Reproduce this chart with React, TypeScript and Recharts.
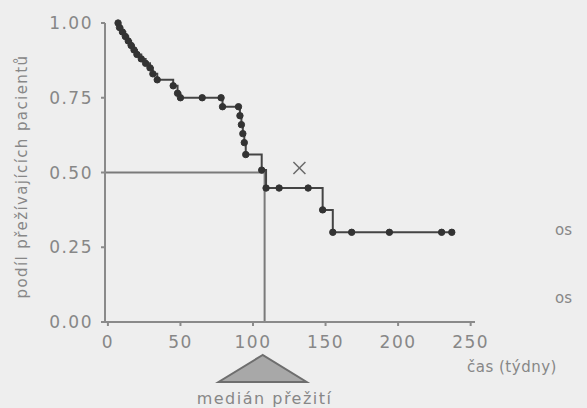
import React from 'react';
import { ComposedChart, Line, XAxis, YAxis, ReferenceLine, ReferenceDot, Scatter, Customized } from 'recharts';

const times = [7, 8, 10, 12, 14, 16, 18, 20, 23, 26, 29, 31, 34, 45, 48, 50, 65, 78, 79, 90, 91, 92, 93, 94, 95, 106, 109, 118, 138, 148, 155, 168, 194, 230, 237];
const survival = [1.0, 0.985, 0.97, 0.955, 0.94, 0.925, 0.91, 0.895, 0.88, 0.865, 0.85, 0.83, 0.81, 0.79, 0.765, 0.75, 0.75, 0.75, 0.72, 0.72, 0.69, 0.66, 0.63, 0.6, 0.56, 0.508, 0.448, 0.448, 0.448, 0.375, 0.3, 0.3, 0.3, 0.3, 0.3];
const xTicks = [0, 50, 100, 150, 200, 250];
const yTicks = [0, 0.25, 0.5, 0.75, 1];
const medianTime = 108;
const medianLevel = 0.5;
const crossPoint = [{ t: 132, s: 0.515 }];

const yLabel = 'podíl přežívajících pacientů';
const xLabel = 'čas (týdny)';
const medianLabel = 'medián přežití';
const sideLabels = ['os', 'os'];

const data = times.map((t, i) => ({ t, s: survival[i] }));

const TXT = '#878787';
const FONT = '"DejaVu Sans", sans-serif';

const YTick = (p: any) => (
  <text x={p.x} y={p.y} dy="0.36em" textAnchor="end" fill={TXT} fontSize={17} fontFamily={FONT} letterSpacing={1.5}>
    {Number(p.payload.value).toFixed(2)}
  </text>
);

const XTick = (p: any) => (
  <text x={p.x} y={p.y} dy="0.71em" textAnchor="middle" fill={TXT} fontSize={17} fontFamily={FONT} letterSpacing={1.5}>
    {p.payload.value}
  </text>
);

const Cross = (p: any) => {
  const r = 6;
  return (
    <g stroke="#6a6a6a" strokeWidth={1.5}>
      <line x1={p.cx - r} y1={p.cy - r} x2={p.cx + r} y2={p.cy + r} />
      <line x1={p.cx - r} y1={p.cy + r} x2={p.cx + r} y2={p.cy - r} />
    </g>
  );
};

const MedianMark = (p: any) => {
  const cx = p.cx;
  const cy = p.cy;
  return (
    <g>
      <polygon
        points={`${cx - 2},${cy + 33} ${cx - 46},${cy + 60} ${cx + 42},${cy + 60}`}
        fill="#a8a8a8"
        stroke="#6e6e6e"
        strokeWidth={2}
      />
      <text x={cx} y={cy + 82} textAnchor="middle" fill={TXT} fontSize={16} fontFamily={FONT} letterSpacing={1.5}>
        {medianLabel}
      </text>
    </g>
  );
};

const SideTexts = () => (
  <g>
    <text x={555} y={235} fill={TXT} fontSize={15} fontFamily={FONT}>{sideLabels[0]}</text>
    <text x={555} y={303} fill={TXT} fontSize={15} fontFamily={FONT}>{sideLabels[1]}</text>
  </g>
);

export default function App() {
  return (
    <div style={{ position: 'absolute', left: 0, top: 0, width: 587, height: 408, background: '#eeeeee', overflow: 'hidden' }}>
      <ComposedChart width={587} height={408} data={data} margin={{ top: 23, right: 112, bottom: 46, left: 0 }}>
        <XAxis
          dataKey="t"
          type="number"
          domain={[-2, 253]}
          allowDataOverflow
          ticks={xTicks}
          tick={<XTick />}
          tickSize={4}
          tickMargin={10}
          height={40}
          stroke="#8a8a8a"
          strokeWidth={2}
          label={(props: any) => {
            const vb = props.viewBox;
            return (
              <text x={vb.x + vb.width - 8} y={vb.y + 50} fill={TXT} fontSize={15} fontFamily={FONT} letterSpacing={0.5}>
                {xLabel}
              </text>
            );
          }}
        />
        <YAxis
          type="number"
          domain={[0, 1]}
          ticks={yTicks}
          tick={<YTick />}
          tickSize={4}
          tickMargin={8}
          width={105}
          stroke="#8a8a8a"
          strokeWidth={2}
          label={(props: any) => {
            const vb = props.viewBox;
            const x = vb.x + 22;
            const y = vb.y + vb.height / 2 + 4;
            return (
              <text x={x} y={y} transform={`rotate(-90, ${x}, ${y})`} textAnchor="middle" dominantBaseline="central" fill={TXT} fontSize={15} fontFamily={FONT} letterSpacing={1.4}>
                {yLabel}
              </text>
            );
          }}
        />
        <ReferenceLine
          segment={[{ x: -2, y: medianLevel }, { x: medianTime, y: medianLevel }]}
          stroke="#7a7a7a"
          strokeWidth={2}
          ifOverflow="visible"
        />
        <ReferenceLine
          segment={[{ x: medianTime, y: medianLevel }, { x: medianTime, y: 0 }]}
          stroke="#7a7a7a"
          strokeWidth={2}
          ifOverflow="visible"
        />
        <Line
          dataKey="s"
          type="stepAfter"
          stroke="#444"
          strokeWidth={2}
          dot={{ r: 3.2, fill: '#333', stroke: '#333', strokeWidth: 1 }}
          isAnimationActive={false}
        />
        <Scatter data={crossPoint} dataKey="s" shape={<Cross />} isAnimationActive={false} />
        <ReferenceDot x={medianTime} y={0} ifOverflow="visible" shape={<MedianMark />} />
        <Customized component={SideTexts} />
      </ComposedChart>
    </div>
  );
}
